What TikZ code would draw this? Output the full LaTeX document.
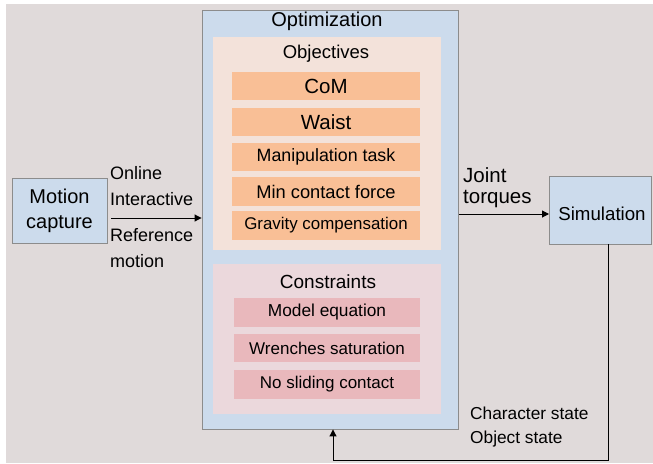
\documentclass[tikz,border=0pt]{standalone}
\usepackage{fontspec}
\setmainfont{Liberation Sans}
\usetikzlibrary{arrows.meta}
\definecolor{bg}{HTML}{E0DADA}
\definecolor{bluebox}{HTML}{CCDBEC}
\definecolor{edgegrey}{HTML}{8C8C8C}
\definecolor{objpanel}{HTML}{F3E2DA}
\definecolor{orangebox}{HTML}{F9BF96}
\definecolor{conpanel}{HTML}{EBD8DC}
\definecolor{pinkbox}{HTML}{E9B8BC}
\tikzset{
  blueblock/.style={draw=edgegrey, line width=0.9pt, fill=bluebox, inner sep=0pt},
  objitem/.style={fill=orangebox, inner sep=0pt, minimum width=188pt},
  conitem/.style={fill=pinkbox, inner sep=0pt, minimum width=186pt},
  lbl/.style={inner sep=0pt, anchor=west, align=left},
  flow/.style={line width=1pt, -{Triangle[length=7pt,width=7pt]}},
}
\newcommand{\fs}[1]{\fontsize{#1}{#1}\selectfont}
\begin{document}
\begin{tikzpicture}[x=1pt,y=-1pt]
\useasboundingbox (0,0) rectangle (653,463);
\fill[white] (0,0) rectangle (653,463);
\fill[bg] (6,4) rectangle (653,463);

% Optimization block
\node[blueblock, minimum width=256pt, minimum height=419pt] (opt) at (330,219.5) {};
\node[inner sep=0pt] (optt) at (327,21) {\fs{20}Optimization};

% Objectives panel
\node[fill=objpanel, inner sep=0pt, minimum width=228pt, minimum height=213pt] (objp) at (327,143.5) {};
\node[inner sep=0pt] (objt) at (326,54) {\fs{18.5}Objectives};
\node[objitem, minimum height=28pt] (com) at (326,86) {\fs{20.5}CoM};
\node[objitem, minimum height=28pt] (waist) at (326,122) {\fs{20.5}Waist};
\node[objitem, minimum height=28pt] (manip) at (326,157) {\fs{17.8}Manipulation task};
\node[objitem, minimum height=29pt] (minc) at (326,191.5) {\fs{18.3}Min contact force};
\node[objitem, minimum height=29pt] (grav) at (326,225.5) {\fs{16.9}Gravity compensation};

% Constraints panel
\node[fill=conpanel, inner sep=0pt, minimum width=228pt, minimum height=150pt] (conp) at (327,339) {};
\node[inner sep=0pt] (cont) at (328,282) {\fs{19}Constraints};
\node[conitem, minimum height=29pt] (model) at (327,312.5) {\fs{17.3}Model equation};
\node[conitem, minimum height=28pt] (wrench) at (327,348) {\fs{17}Wrenches saturation};
\node[conitem, minimum height=29pt] (slide) at (327,384.5) {\fs{17}No sliding contact};

% Motion capture
\node[blueblock, minimum width=95pt, minimum height=65pt, align=center,
      font=\fontsize{20}{25}\selectfont] (mocap) at (59.5,210.5) {Motion\\capture};

% Simulation
\node[blueblock, minimum width=102pt, minimum height=68pt, anchor=west] (sim) at (549,210) {};
\node[inner sep=0pt] (simt) at (602,214) {\fs{18.7}Simulation};

% Input arrow
\coordinate (inS) at (111,218);
\draw[flow] (inS) -- (inS -| opt.west);
\node[lbl] (l1) at (110,173) {\fs{18}Online};
\node[lbl] (l2) at (110,199) {\fs{18}Interactive};
\node[lbl] (l3) at (110,235) {\fs{18}Reference};
\node[lbl] (l4) at (110,261) {\fs{18}motion};

% Output arrow
\coordinate (outS) at (459,214);
\draw[flow] (outS) -- (outS -| sim.west);
\node[lbl] (j1) at (463,175) {\fs{20.5}Joint};
\node[lbl] (j2) at (463,199) {\fs{20.5}torques};

% Feedback
\coordinate (fbA) at (608,244);
\coordinate (fbB) at (608,460);
\coordinate (fbC) at (333,460);
\draw[line width=1pt, -{Triangle[length=7pt,width=7pt]}] (sim.south -| fbA) -- (fbB) -- (fbC) -- (opt.south -| fbC);
\node[lbl] (s1) at (470,413) {\fs{17.3}Character state};
\node[lbl] (s2) at (470,439) {\fs{17.3}Object state};
\end{tikzpicture}
\end{document}
